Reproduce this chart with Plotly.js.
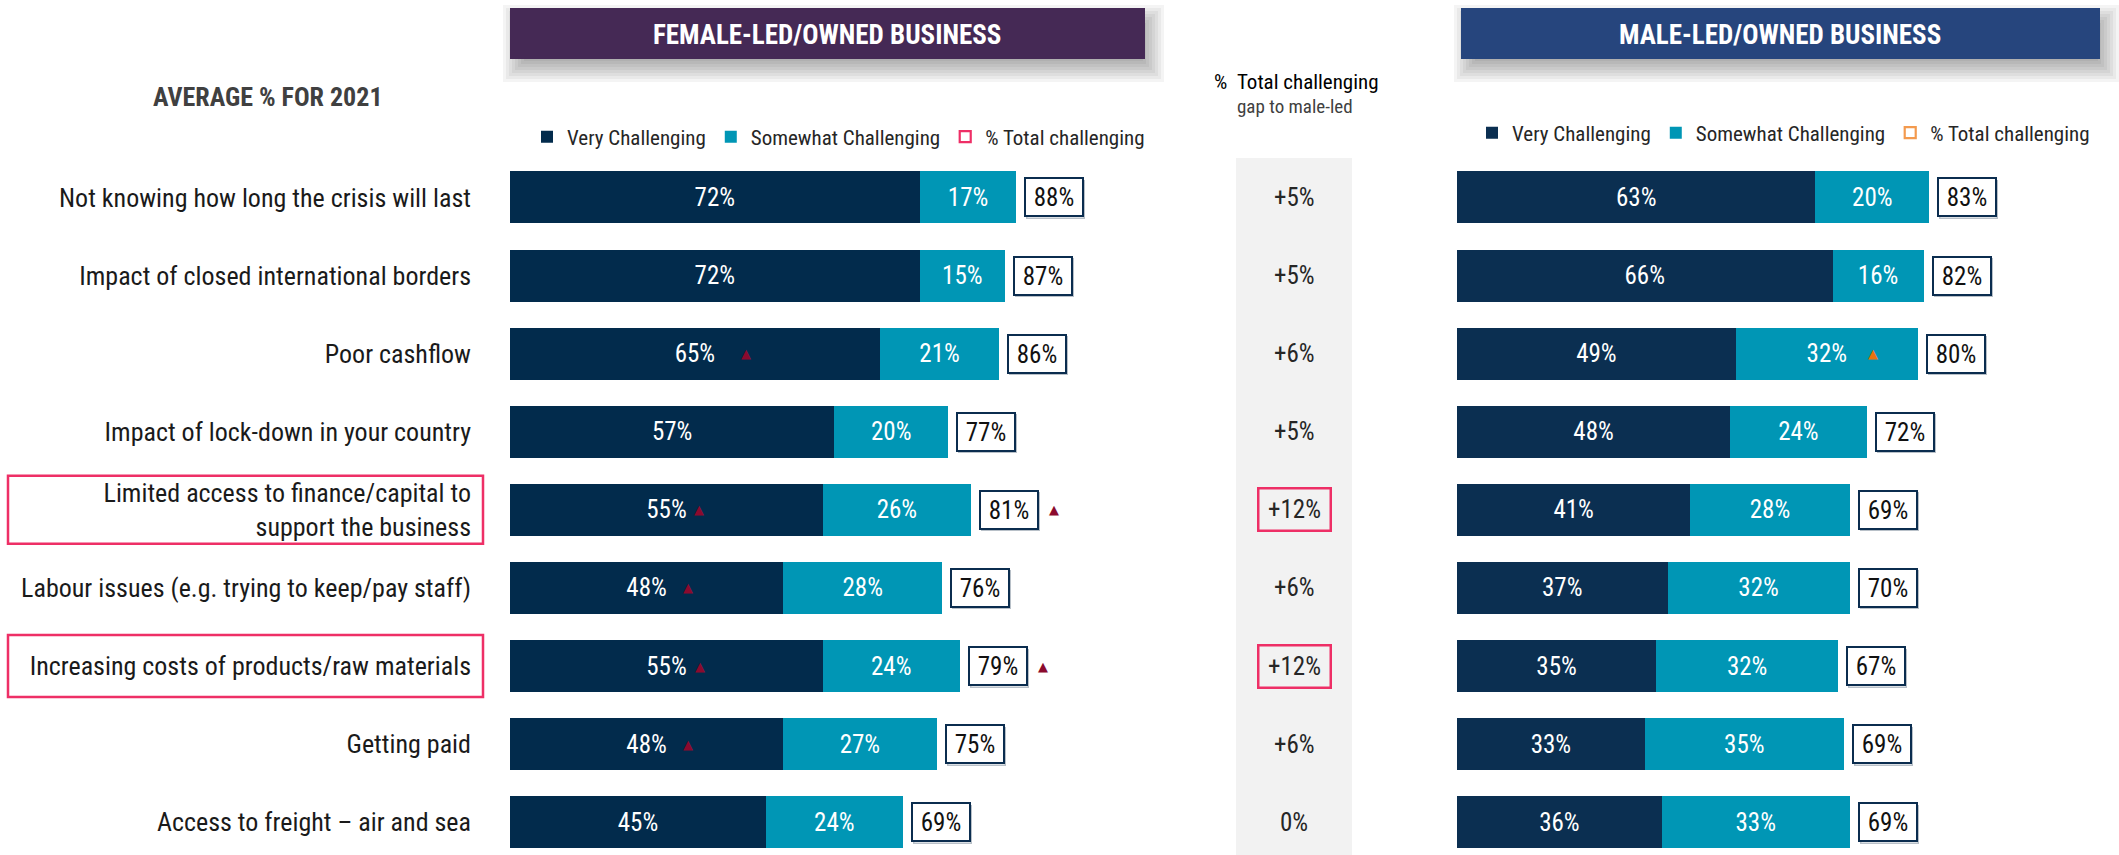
<!DOCTYPE html>
<html>
<head>
<meta charset="utf-8">
<script src="https://cdn.plot.ly/plotly-3.0.1.min.js"></script>
<style>html,body{margin:0;padding:0;background:#fff}#chart{width:2119px;height:855px}</style>
</head>
<body>
<div id="chart"></div>
<script>
// ---------- DATA ----------
const categories = [
  'Not knowing how long the crisis will last',
  'Impact of closed international borders',
  'Poor cashflow',
  'Impact of lock-down in your country',
  'Limited access to finance/capital to<br>support the business',
  'Labour issues (e.g. trying to keep/pay staff)',
  'Increasing costs of products/raw materials',
  'Getting paid',
  'Access to freight \u2013 air and sea'
];
const femaleVery  = [72, 72, 65, 57, 55, 48, 55, 48, 45];
const femaleSome  = [17, 15, 21, 20, 26, 28, 24, 27, 24];
const femaleTotal = [88, 87, 86, 77, 81, 76, 79, 75, 69];
const maleVery    = [63, 66, 49, 48, 41, 37, 35, 33, 36];
const maleSome    = [20, 16, 32, 24, 28, 32, 32, 35, 33];
const maleTotal   = [83, 82, 80, 72, 69, 70, 67, 69, 69];
const gapLabels   = ['+5%', '+5%', '+6%', '+5%', '+12%', '+6%', '+12%', '+6%', '0%'];
const highlighted = [false, false, false, false, true, false, true, false, false];
const femaleVeryUp  = [false, false, true, false, true, true, true, true, false];
const femaleTotalUp = [false, false, false, false, true, false, true, false, false];
const maleSomeUp    = [false, false, true, false, false, false, false, false, false];
const seriesNames = ['Very Challenging', 'Somewhat Challenging', '% Total challenging'];
const femaleHeader = 'FEMALE-LED/OWNED BUSINESS';
const maleHeader = 'MALE-LED/OWNED BUSINESS';
const leftTitle = 'AVERAGE % FOR 2021';
const gapTitle = '% &nbsp;Total challenging';
const gapSubtitle = 'gap to male-led';

// ---------- STYLE ----------
const W = 2119, H = 855;
const FONT = '"Liberation Sans Narrow", "Arial Narrow", "Roboto Condensed", Roboto, sans-serif';
const C_FVERY = '#022B4C', C_MVERY = '#0B2F51', C_SOME = '#0096B5';
const C_BOX = '#0B2D4F', C_PINK = '#EE2F66', C_ORANGE = '#F39A4E', C_TRI = '#8B0A2E', C_TRI_M = '#E8730F';
const px = x => x / W;
const py = y => 1 - y / H;
const PXPCT = 5.69;
const ROW_PX = 78.1;
const triShift = {2: 51, 4: 33, 5: 41, 6: 34, 7: 41};

const femaleEnd = femaleVery.map((v, i) => v + femaleSome[i]);
const maleEnd = maleVery.map((v, i) => v + maleSome[i]);

function barTrace(x, name, color, xa, ya, legend, show) {
  return {
    type: 'bar', orientation: 'h', y: categories, x: x, name: name,
    xaxis: xa, yaxis: ya, legend: legend, showlegend: show,
    marker: {color: color, line: {width: 0}},
    texttemplate: '%{x}%', textposition: 'inside', insidetextanchor: 'middle',
    textangle: 0, constraintext: 'none',
    textfont: {family: FONT, size: 25, color: '#FFFFFF'},
    hoverinfo: 'skip'
  };
}
function dummy(name, color, xa, ya, legend) {
  return {
    type: 'scatter', mode: 'markers', x: [null], y: [null], name: name,
    xaxis: xa, yaxis: ya, legend: legend,
    marker: {symbol: 'square-open', size: 11, color: color, line: {width: 2.2, color: color}},
    hoverinfo: 'skip'
  };
}

const data = [
  barTrace(femaleVery, seriesNames[0], C_FVERY, 'x', 'y', 'legend', true),
  barTrace(femaleSome, seriesNames[1], C_SOME, 'x', 'y', 'legend', true),
  dummy(seriesNames[2], C_PINK, 'x', 'y', 'legend'),
  barTrace(maleVery, seriesNames[0], C_MVERY, 'x2', 'y2', 'legend2', true),
  barTrace(maleSome, seriesNames[1], C_SOME, 'x2', 'y2', 'legend2', true),
  dummy(seriesNames[2], C_ORANGE, 'x2', 'y2', 'legend2')
];

// ---------- SHAPES ----------
const shapes = [];
function header(x0, y0, x1, y1, color) {
  for (let k = 0; k < 8; k++) {
    const g = k * 3;
    shapes.push({type: 'rect', xref: 'paper', yref: 'paper', layer: 'below',
      x0: px(x0 + 14 - g), x1: px(x1 - 2 + g), y0: py(y1 + 2 + g), y1: py(y0 + 18 - g),
      fillcolor: '#000000', opacity: 0.045, line: {width: 0}});
  }
  shapes.push({type: 'rect', xref: 'paper', yref: 'paper', layer: 'below',
    x0: px(x0), x1: px(x1), y0: py(y1), y1: py(y0), fillcolor: color, line: {width: 0}});
}
header(510, 8, 1145, 59, '#452955');
header(1461, 8, 2100, 59, '#26457D');
// gap column
shapes.push({type: 'rect', xref: 'paper', yref: 'paper', layer: 'below',
  x0: px(1236), x1: px(1352), y0: 0, y1: py(158), fillcolor: '#F2F2F2', line: {width: 0}});
// highlighted category label boxes
categories.forEach((c, i) => {
  if (!highlighted[i]) return;
  const half = (c.includes('<br>') ? 34 : 31) / ROW_PX;
  shapes.push({type: 'rect', xref: 'paper', yref: 'y', layer: 'below',
    x0: px(8), x1: px(483), y0: i - half, y1: i + half,
    fillcolor: '#FFFFFF', line: {color: C_PINK, width: 2.5}});
});

// ---------- ANNOTATIONS ----------
const ann = [];
const txt = (x, y, text, size, color) => ({xref: 'paper', yref: 'paper', x: px(x), y: py(y),
  xanchor: 'center', yanchor: 'middle', text: text, showarrow: false,
  font: {family: FONT, size: size, color: color}});
ann.push(txt(827, 35, '<b>' + femaleHeader + '</b>', 27, '#FFFFFF'));
ann.push(txt(1780, 35, '<b>' + maleHeader + '</b>', 27, '#FFFFFF'));
ann.push(txt(268, 97, '<b>' + leftTitle + '</b>', 26, '#404040'));
ann.push(txt(1296, 82, gapTitle, 21, '#000000'));
ann.push(txt(1295, 107, gapSubtitle, 19, '#404040'));

function totalBox(xval, label, xa, ya, y) {
  ann.push({xref: xa, yref: ya, x: xval, y: y, xanchor: 'left', yanchor: 'middle', xshift: 10, yshift: -2,
    text: '', showarrow: false, width: 56, height: 36, borderwidth: 1.5, borderpad: 0,
    bordercolor: '#B8C0C8', bgcolor: 'rgba(0,0,0,0)'});
  ann.push({xref: xa, yref: ya, x: xval, y: y, xanchor: 'left', yanchor: 'middle', xshift: 8,
    text: label, showarrow: false, width: 56, height: 36, borderwidth: 2, borderpad: 0,
    bordercolor: C_BOX, bgcolor: '#FFFFFF', font: {family: FONT, size: 25, color: '#111111'}});
}
const tri = (xa, ya, x, y, shift, color) => ({xref: xa, yref: ya, x: x, y: y, xshift: shift,
  xanchor: 'center', yanchor: 'middle', text: '\u25B2', showarrow: false,
  font: {family: 'DejaVu Sans', size: 13, color: color}});
categories.forEach((c, i) => {
  totalBox(femaleEnd[i], femaleTotal[i] + '%', 'x', 'y', c);
  totalBox(maleEnd[i], maleTotal[i] + '%', 'x2', 'y2', c);
  const g = {xref: 'paper', yref: 'y', x: px(1294), y: c, xanchor: 'center', yanchor: 'middle',
    text: gapLabels[i], showarrow: false, font: {family: FONT, size: 25, color: '#262626'}};
  if (highlighted[i]) Object.assign(g, {width: 70, height: 40, borderwidth: 2.5, borderpad: 0,
    bordercolor: C_PINK, bgcolor: 'rgba(0,0,0,0)'});
  ann.push(g);
  if (femaleVeryUp[i]) ann.push(tri('x', 'y', femaleVery[i] / 2, c, triShift[i] || 38, C_TRI));
  if (femaleTotalUp[i]) ann.push(tri('x', 'y', femaleEnd[i], c, 8 + 60 + 15, C_TRI));
  if (maleSomeUp[i]) ann.push(tri('x2', 'y2', maleVery[i] + maleSome[i] / 2, c, 46, C_TRI_M));
});

// ---------- LAYOUT ----------
const yDomTop = 1 - 158.4 / H;
const yRange = [(H - 158.4) / ROW_PX - 0.5, -0.5];
const layout = {
  width: W, height: H, margin: {l: 0, r: 0, t: 0, b: 0},
  paper_bgcolor: '#FFFFFF', plot_bgcolor: 'rgba(0,0,0,0)',
  barmode: 'stack', bargap: 0.335,
  font: {family: FONT, color: '#1A1A1A'},
  xaxis: {domain: [px(510), px(510 + 100 * PXPCT)], range: [0, 100], anchor: 'y',
    showgrid: false, zeroline: false, showticklabels: false, showline: false, fixedrange: true},
  xaxis2: {domain: [px(1457), px(1457 + 100 * PXPCT)], range: [0, 100], anchor: 'y2',
    showgrid: false, zeroline: false, showticklabels: false, showline: false, fixedrange: true},
  yaxis: {domain: [0, yDomTop], range: yRange, type: 'category', anchor: 'x',
    showgrid: false, zeroline: false, showline: false, ticks: '', ticklabelstandoff: 38,
    tickfont: {family: FONT, size: 26, color: '#1A1A1A'}, fixedrange: true},
  yaxis2: {domain: [0, yDomTop], range: yRange, type: 'category', anchor: 'x2',
    showgrid: false, zeroline: false, showline: false, showticklabels: false, fixedrange: true},
  legend: {orientation: 'h', x: px(527), y: py(137), xanchor: 'left', yanchor: 'middle',
    bgcolor: 'rgba(0,0,0,0)', font: {family: FONT, size: 21, color: '#262626'}, traceorder: 'normal'},
  legend2: {orientation: 'h', x: px(1472), y: py(133), xanchor: 'left', yanchor: 'middle',
    bgcolor: 'rgba(0,0,0,0)', font: {family: FONT, size: 21, color: '#262626'}, traceorder: 'normal'},
  shapes: shapes,
  annotations: ann
};

Plotly.newPlot('chart', data, layout, {displayModeBar: false, staticPlot: true});
</script>
</body>
</html>
